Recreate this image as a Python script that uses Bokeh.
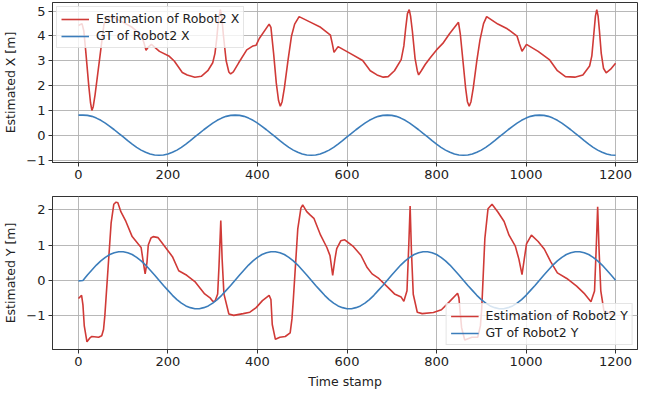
from bokeh.plotting import figure
from bokeh.layouts import column
from bokeh.models import Range1d, FixedTicker, CustomJSTickFormatter, Legend, LegendItem
from bokeh.embed import file_html
from bokeh.resources import INLINE

# ---------------- data ----------------
# (time stamp, estimated X)
est_x_pts = [
    (0, 4.42), (8, 4.50), (12, 4.20), (16, 3.44), (23, 2.00), (27, 1.30), (30, 1.00), (33, 1.15),
    (37, 1.62), (48, 3.18), (57, 4.48), (64, 4.72), (74, 4.78), (100, 4.55), (120, 4.35),
    (140, 4.05), (146, 3.75), (151, 3.42), (156, 3.55), (163, 3.66), (181, 3.38), (203, 3.18),
    (214, 2.99), (232, 2.53), (243, 2.43), (260, 2.34), (275, 2.38), (289, 2.60), (300, 2.92),
    (305, 3.30), (309, 3.90), (313, 4.70), (317, 5.06), (320, 4.80), (324, 4.00), (330, 3.00),
    (336, 2.55), (340, 2.47), (346, 2.55), (358, 2.92), (376, 3.44), (390, 3.60), (397, 3.63),
    (404, 3.90), (426, 4.48), (430, 4.35), (436, 3.30), (442, 2.10), (447, 1.40), (451, 1.17),
    (455, 1.35), (460, 1.90), (468, 3.00), (476, 4.00), (483, 4.48), (493, 4.78), (519, 4.55),
    (541, 4.35), (563, 4.03), (567, 3.70), (571, 3.34), (580, 3.57), (606, 3.31), (635, 3.01),
    (652, 2.60), (667, 2.43), (681, 2.34), (692, 2.36), (706, 2.60), (721, 3.05), (727, 3.60),
    (731, 4.30), (735, 4.90), (739, 5.06), (742, 4.80), (746, 4.20), (752, 3.10), (757, 2.60),
    (760, 2.43), (766, 2.60), (775, 2.86), (786, 3.12), (800, 3.44), (814, 3.70), (829, 4.09),
    (849, 4.55), (853, 4.10), (859, 3.00), (865, 1.90), (869, 1.35), (873, 1.17), (877, 1.35),
    (882, 1.90), (890, 3.00), (897, 3.83), (905, 4.50), (912, 4.78), (937, 4.48), (958, 4.29),
    (980, 3.99), (985, 3.70), (991, 3.38), (1001, 3.66), (1027, 3.38), (1052, 3.05), (1070, 2.60),
    (1088, 2.36), (1109, 2.34), (1127, 2.43), (1142, 2.79), (1147, 3.20), (1151, 4.00),
    (1155, 4.80), (1158, 5.06), (1161, 4.80), (1164, 4.20), (1168, 3.30), (1173, 2.70),
    (1179, 2.51), (1189, 2.66), (1200, 2.90)]

# (time stamp, estimated Y)
est_y_pts = [
    (0, -0.52), (7, -0.43), (10, -0.70), (13, -1.30), (19, -1.75), (25, -1.65), (30, -1.60),
    (45, -1.62), (52, -1.58), (56, -1.40), (59, -1.00), (66, 0.32), (73, 1.63), (79, 2.16),
    (84, 2.22), (88, 2.20), (95, 1.94), (106, 1.67), (120, 1.24), (134, 1.02), (140, 0.93),
    (145, 0.50), (149, 0.18), (153, 0.50), (156, 1.00), (162, 1.20), (167, 1.24), (178, 1.21),
    (192, 0.97), (210, 0.67), (224, 0.27), (242, 0.14), (260, -0.04), (282, -0.39), (294, -0.50),
    (300, -0.60), (305, -0.60), (311, -0.39), (314, 0.40), (318, 1.70), (321, 0.60), (325, -0.39),
    (336, -0.96), (347, -1.00), (368, -0.95), (383, -0.91), (397, -0.78), (411, -0.58),
    (426, -0.43), (430, -0.55), (433, -1.26), (440, -1.68), (450, -1.62), (462, -1.60),
    (473, -1.50), (477, -1.10), (480, -0.56), (490, 1.46), (497, 2.05), (501, 2.14), (510, 1.95),
    (518, 1.85), (526, 1.76), (541, 1.28), (555, 0.93), (562, 0.70), (568, 0.14), (573, 0.60),
    (577, 0.90), (586, 1.12), (595, 1.15), (613, 0.97), (631, 0.71), (645, 0.36), (656, 0.18),
    (671, 0.05), (692, -0.21), (706, -0.39), (721, -0.48), (727, -0.60), (734, -0.30),
    (738, 1.00), (741, 2.11), (744, 0.80), (748, -0.40), (757, -0.91), (768, -0.95), (793, -0.92),
    (811, -0.84), (829, -0.61), (847, -0.37), (850, -0.50), (856, -1.35), (863, -1.70),
    (879, -1.62), (892, -1.62), (898, -1.30), (901, -0.80), (908, 1.19), (915, 2.03), (924, 2.16),
    (937, 1.94), (951, 1.67), (962, 1.28), (976, 0.97), (984, 0.60), (991, 0.16), (996, 0.60),
    (1001, 1.03), (1012, 1.28), (1027, 1.10), (1041, 0.88), (1055, 0.53), (1070, 0.21),
    (1091, 0.05), (1113, -0.17), (1131, -0.39), (1145, -0.61), (1153, -0.31), (1157, 1.00),
    (1160, 2.09), (1163, 0.90), (1167, -0.30), (1174, -0.87), (1189, -0.95), (1200, -1.00)]

gt_t = list(range(0, 1201, 10))
gt_x = [0.81,
        0.81, 0.80, 0.76, 0.69, 0.60, 0.49, 0.36, 0.22, 0.07, -0.07, -0.22, -0.36, -0.49, -0.60, -0.69, -0.76, -0.80,
        -0.81, -0.80, -0.76, -0.69, -0.60, -0.49, -0.36, -0.22, -0.07, 0.07, 0.22, 0.36, 0.49, 0.60, 0.69, 0.76, 0.80,
        0.81, 0.80, 0.76, 0.69, 0.60, 0.49, 0.36, 0.22, 0.07, -0.07, -0.22, -0.36, -0.49, -0.60, -0.69, -0.76, -0.80,
        -0.81, -0.80, -0.76, -0.69, -0.60, -0.49, -0.36, -0.22, -0.07, 0.07, 0.22, 0.36, 0.49, 0.60, 0.69, 0.76, 0.80,
        0.81, 0.80, 0.76, 0.69, 0.60, 0.49, 0.36, 0.22, 0.07, -0.07, -0.22, -0.36, -0.49, -0.60, -0.69, -0.76, -0.80,
        -0.81, -0.80, -0.76, -0.69, -0.60, -0.49, -0.36, -0.22, -0.07, 0.07, 0.22, 0.36, 0.49, 0.60, 0.69, 0.76, 0.80,
        0.81, 0.80, 0.76, 0.69, 0.60, 0.49, 0.36, 0.22, 0.07, -0.07, -0.22, -0.36, -0.49, -0.60, -0.69, -0.76, -0.80,
        -0.81]
gt_y = [-0.02,
        -0.01, 0.15, 0.29, 0.43, 0.55, 0.65, 0.73, 0.78, 0.81, 0.81, 0.78, 0.73, 0.65, 0.55, 0.43, 0.29, 0.15,
        0.00, -0.15, -0.29, -0.43, -0.55, -0.65, -0.73, -0.78, -0.81, -0.81, -0.78, -0.73, -0.65, -0.55, -0.43, -0.29, -0.15,
        0.00, 0.15, 0.29, 0.43, 0.55, 0.65, 0.73, 0.78, 0.81, 0.81, 0.78, 0.73, 0.65, 0.55, 0.43, 0.29, 0.15,
        0.00, -0.15, -0.29, -0.43, -0.55, -0.65, -0.73, -0.78, -0.81, -0.81, -0.78, -0.73, -0.65, -0.55, -0.43, -0.29, -0.15,
        0.00, 0.15, 0.29, 0.43, 0.55, 0.65, 0.73, 0.78, 0.81, 0.81, 0.78, 0.73, 0.65, 0.55, 0.43, 0.29, 0.15,
        0.00, -0.15, -0.29, -0.43, -0.55, -0.65, -0.73, -0.78, -0.81, -0.81, -0.78, -0.73, -0.65, -0.55, -0.43, -0.29, -0.15,
        0.00, 0.15, 0.29, 0.43, 0.55, 0.65, 0.73, 0.78, 0.81, 0.81, 0.78, 0.73, 0.65, 0.55, 0.43, 0.29, 0.15,
        0.00]

x_ticks = [0, 200, 400, 600, 800, 1000, 1200]
top_y_ticks = [-1, 0, 1, 2, 3, 4, 5]
bot_y_ticks = [-1, 0, 1, 2]

labels_top = ["Estimation of Robot2 X", "GT of Robot2 X"]
labels_bot = ["Estimation of Robot2 Y", "GT of Robot2 Y"]

est_x_t = [t for t, _ in est_x_pts]
est_x_v = [v for _, v in est_x_pts]
est_y_t = [t for t, _ in est_y_pts]
est_y_v = [v for _, v in est_y_pts]

RED = "#d03a37"
BLUE = "#3b7dbb"
FONT = "DejaVu Sans"

minus_fmt = "return tick < 0 ? '\u2212' + Math.abs(tick) : String(tick);"


def style(p, yticks, xlabel=None, ylabel=None):
    p.outline_line_color = "#333333"
    p.outline_line_width = 1
    p.xaxis.ticker = FixedTicker(ticks=x_ticks)
    p.yaxis.ticker = FixedTicker(ticks=yticks)
    p.yaxis.formatter = CustomJSTickFormatter(code=minus_fmt)
    for ax in (p.xaxis[0], p.yaxis[0]):
        ax.axis_line_color = "#333333"
        ax.major_tick_line_color = "#333333"
        ax.major_tick_out = 4
        ax.major_tick_in = 0
        ax.minor_tick_line_color = None
        ax.major_label_text_font = FONT
        ax.major_label_text_font_size = "13px"
        ax.major_label_text_color = "#222222"
        ax.major_label_standoff = 3
        ax.axis_label_text_font = FONT
        ax.axis_label_text_font_size = "12.5px"
        ax.axis_label_text_font_style = "normal"
        ax.axis_label_text_color = "#222222"
        ax.axis_label_standoff = 5
    if xlabel:
        p.xaxis.axis_label = xlabel
    if ylabel:
        p.yaxis.axis_label = ylabel
    p.xgrid.ticker = FixedTicker(ticks=x_ticks)
    p.ygrid.ticker = FixedTicker(ticks=yticks)
    for g in (p.xgrid[0], p.ygrid[0]):
        g.grid_line_color = "#b0b0b0"
        g.grid_line_width = 1
        g.grid_line_alpha = 0.9


def make_legend(items, loc):
    lg = Legend(items=items, location=loc)
    lg.label_text_font = FONT
    lg.label_text_font_size = "12.5px"
    lg.label_text_color = "#222222"
    lg.glyph_width = 28
    lg.glyph_height = 14
    lg.label_standoff = 7
    lg.label_height = 14
    lg.spacing = 2
    lg.padding = 4
    lg.margin = 4
    lg.border_line_color = "#cccccc"
    lg.border_line_width = 1
    lg.background_fill_alpha = 0.8
    return lg


p1 = figure(width=639, height=188, output_backend="svg", toolbar_location=None,
            x_range=Range1d(-58, 1249), y_range=Range1d(-1.1, 5.35),
            min_border_left=46, min_border_right=2, min_border_top=2, min_border_bottom=26)
r1 = p1.line(est_x_t, est_x_v, line_color=RED, line_width=1.6)
r2 = p1.line(gt_t, gt_x, line_color=BLUE, line_width=1.6)
style(p1, top_y_ticks, ylabel="Estimated X [m]")
p1.add_layout(make_legend([LegendItem(label=labels_top[0], renderers=[r1]),
                           LegendItem(label=labels_top[1], renderers=[r2])], "top_left"))

p2 = figure(width=639, height=203, output_backend="svg", toolbar_location=None,
            x_range=Range1d(-58, 1249), y_range=Range1d(-1.97, 2.38),
            min_border_left=46, min_border_right=2, min_border_top=8, min_border_bottom=36)
r3 = p2.line(est_y_t, est_y_v, line_color=RED, line_width=1.6)
r4 = p2.line(gt_t, gt_y, line_color=BLUE, line_width=1.6)
style(p2, bot_y_ticks, xlabel="Time stamp", ylabel="Estimated Y [m]")
p2.add_layout(make_legend([LegendItem(label=labels_bot[0], renderers=[r3]),
                           LegendItem(label=labels_bot[1], renderers=[r4])], "bottom_right"))

layout = column(p1, p2, spacing=0)
open("out.html", "w").write(file_html(layout, INLINE))
